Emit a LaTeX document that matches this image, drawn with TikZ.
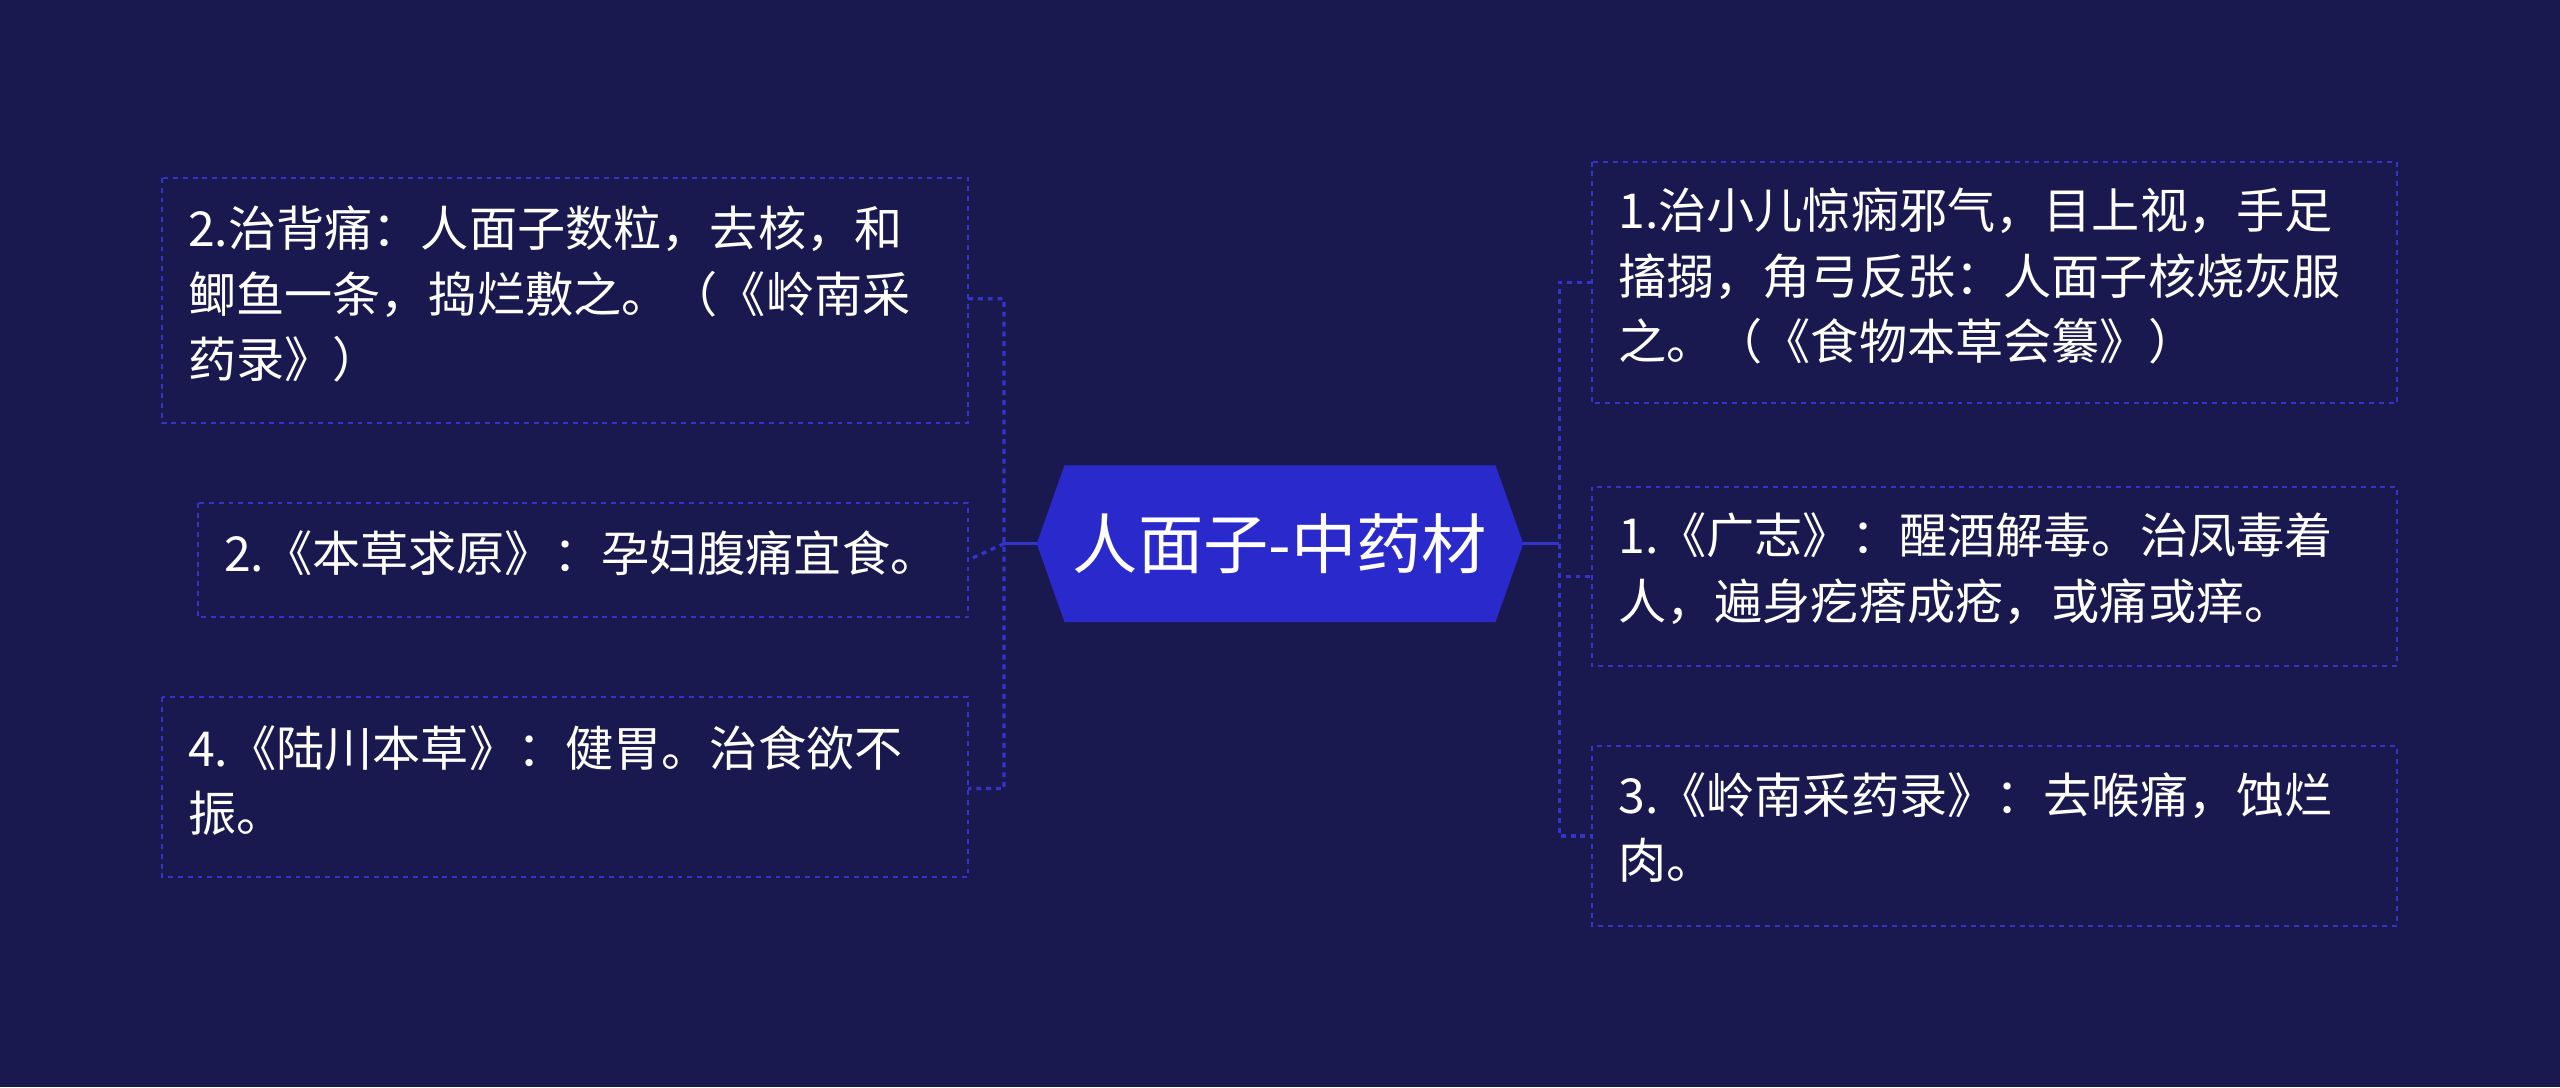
\documentclass[tikz,border=0pt]{standalone}
\usepackage{fontspec}
\newfontfamily\cjk{Noto Sans CJK SC}
\definecolor{bg}{HTML}{191950}
\definecolor{ln}{HTML}{3434C8}
\definecolor{hx}{HTML}{2A2ACC}
\begin{document}
\begin{tikzpicture}[x=1pt,y=-1pt,
 box/.style={draw=ln,dashed,line width=1.2pt,inner sep=0pt},
 txt/.style={text=white,font=\cjk\fontsize{29.5}{40}\selectfont,align=left,anchor=north west,inner sep=0pt},
 con/.style={draw=ln,line width=2pt,dashed}]
\fill[bg] (0,0) rectangle (1568,666);
\fill[hx] (635,333)--(652,285)--(916,285)--(933,333)--(916,381)--(652,381)--cycle;
\node[text=white,font=\cjk\fontsize{40}{44}\selectfont] (c) at (784,333) {人面子-中药材};
\coordinate (cl) at (635,333); \coordinate (cr) at (933,333);
\coordinate (tl) at (615,333); \coordinate (tr) at (955,333);
% left boxes
\draw[box] (99,109) rectangle (593,259); \coordinate (l1) at (593,183);
\node[txt] (t1) at (115,126) {2.治背痛：人面子数粒，去核，和\\鲫鱼一条，捣烂敷之。（《岭南采\\药录》）};
\draw[box] (121,308) rectangle (593,378); \coordinate (l2) at (593,343);
\node[txt] (t2) at (137,325) {2.《本草求原》：孕妇腹痛宜食。};
\draw[box] (99,427) rectangle (593,537); \coordinate (l3) at (593,483);
\node[txt] (t3) at (115,444) {4.《陆川本草》：健胃。治食欲不\\振。};
% right boxes
\draw[box] (975,99) rectangle (1468,247); \coordinate (r1) at (975,173);
\node[txt] (u1) at (991,115) {1.治小儿惊痫邪气，目上视，手足\\搐搦，角弓反张：人面子核烧灰服\\之。（《食物本草会纂》）};
\draw[box] (975,298) rectangle (1468,408); \coordinate (r2) at (975,353);
\node[txt] (u2) at (991,314) {1.《广志》：醒酒解毒。治凤毒着\\人，遍身疙瘩成疮，或痛或痒。};
\draw[box] (975,457) rectangle (1468,567); \coordinate (r3) at (975,512);
\node[txt] (u3) at (991,473) {3.《岭南采药录》：去喉痛，蚀烂\\肉。};
% connectors
\draw[ln,line width=2pt] (cl)--(tl) (cr)--(tr);
\draw[con] (l1)-|(tl)|-(l3) (tl)--(l2);
\draw[con] (r1)-|(tr)|-(r3) (tr)|-(r2);
\end{tikzpicture}
\end{document}
